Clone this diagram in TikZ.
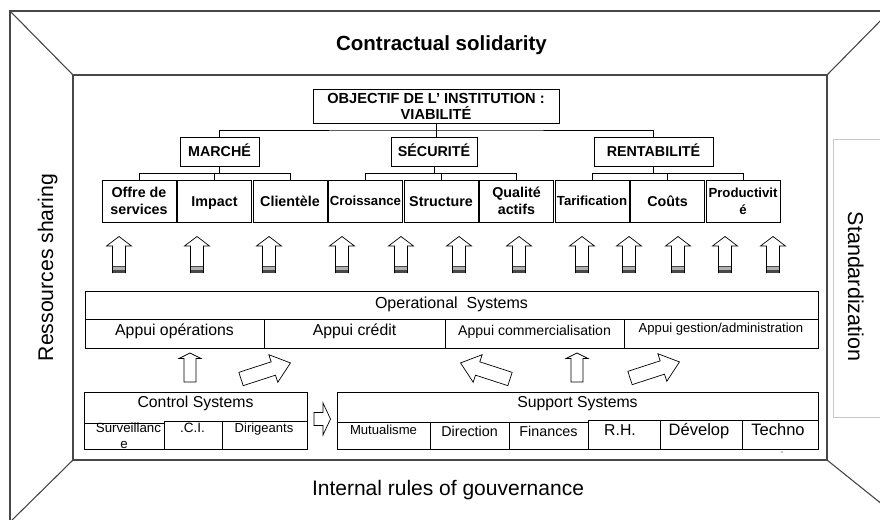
\documentclass[tikz,border=0pt]{standalone}
\usepackage{fontspec}
\setmainfont{Liberation Sans}
\begin{document}
\begin{tikzpicture}[x=1pt,y=-1pt,
  frame/.style={draw=black!72, line width=1.1pt},
  box/.style={draw=black, line width=0.8pt, inner sep=0pt, outer sep=0pt},
  tbox/.style={box, align=center, font=\bfseries\fontsize{14.3}{17}\selectfont},
  one/.style={text height=10.3pt, text depth=0pt},
  conn/.style={draw=black, line width=0.8pt},
  lbl/.style={inner sep=0pt, anchor=base},
  arr/.style={draw=black, line width=0.7pt, fill=white, line join=miter},
  uparr/.pic={
    \fill[black!72] (-6.5,29.3) rectangle (6.5,36.5);
    \fill[black!30] (-6.5,30.8) rectangle (6.5,33);
    \draw[line width=0.7pt] (-6.5,36.5) -- (-6.5,9.5) -- (-12.5,9.5) -- (0,0) -- (12.5,9.5) -- (6.5,9.5) -- (6.5,36.5);
  },
  bigarrow/.pic={
    \draw[arr] (0,-7) -- (34,-7) -- (34,-14.5) -- (52,0) -- (34,14.5) -- (34,7) -- (0,7) -- cycle;
  },
  smallup/.pic={
    \draw[arr] (-6,29) -- (-6,5.5) -- (-11,5.5) -- (0,0) -- (11,5.5) -- (6,5.5) -- (6,29) -- cycle;
  },
  smallright/.pic={
    \draw[arr] (0,-6.5) -- (9,-6.5) -- (9,-16) -- (16.5,0) -- (9,16) -- (9,6.5) -- (0,6.5) -- cycle;
  }
]
\useasboundingbox (0,0) rectangle (880,519);
\clip (0,0) rectangle (880,519);

% ---------- perspective frame ----------
\draw[frame] (895,11) -- (10,11) -- (10,530);
\draw[frame] (73,75) rectangle (827,460);
\draw[frame] (10,11) -- (73,75);
\draw[frame] (827,75) -- (891,10);
\draw[frame] (827,460) -- (893,513);
\draw[frame] (73,460) -- (6,526);
\draw[draw=black!22, line width=0.8pt] (833,139) rectangle (900,417);

% ---------- side texts ----------
\node[lbl, font=\bfseries\fontsize{20.5}{24}\selectfont] (contract) at (441.5,51) {Contractual solidarity};
\node[lbl, font=\fontsize{21}{24}\selectfont] (internal) at (448,495) {Internal rules of gouvernance};
\node[lbl, rotate=90, font=\fontsize{21.2}{24}\selectfont] (ressources) at (53,267.5) {Ressources sharing};
\node[lbl, rotate=-90, font=\fontsize{21.5}{24}\selectfont] (standard) at (848,286.5) {Standardization};

% ---------- objective tree ----------
\node[tbox, minimum width=246, minimum height=34, font=\bfseries\fontsize{14.6}{16}\selectfont] (top) at (436,106) {OBJECTIF DE L' INSTITUTION :\\VIABILITÉ};
\node[tbox, one, minimum width=79, minimum height=29] (m) at (219.5,151.5) {MARCHÉ};
\node[tbox, one, minimum width=86, minimum height=29] (s) at (434,151.5) {SÉCURITÉ};
\node[tbox, one, minimum width=119, minimum height=29] (r) at (653.5,151.5) {RENTABILITÉ};

\tikzset{leaf/.style={tbox, minimum width=74, minimum height=42}}
\node[leaf] (c0) at (139,201) {Offre de\\services};
\node[leaf, one] (c1) at (214.5,201) {Impact};
\node[leaf, one] (c2) at (290,201) {Clientèle};
\node[leaf, one, text height=9.5pt, font=\bfseries\fontsize{13.2}{16}\selectfont] (c3) at (365.5,201) {Croissance};
\node[leaf, one] (c4) at (441,201) {Structure};
\node[leaf] (c5) at (516.5,201) {Qualité\\actifs};
\node[leaf, one, text height=9.5pt, font=\bfseries\fontsize{13.2}{16}\selectfont] (c6) at (592,201) {Tarification};
\node[leaf, one] (c7) at (667.5,201) {Coûts};
\node[leaf, font=\bfseries\fontsize{13.2}{17}\selectfont] (c8) at (743,201) {Productivit\\é};

\coordinate (j1) at (436,130);
\draw[conn] (top.south) -- (top.south |- s.north);
\draw[conn] (m.north) |- (j1) -| (r.north);

\draw[conn] (m.south) -- ++(0,7);
\draw[conn] (c0.north) -- ++(0,-7) -| (c2.north);
\draw[conn] (c1.north) -- ++(0,-7);
\draw[conn] (s.south) -- ++(0,7);
\draw[conn] (c3.north) -- ++(0,-7) -| (c5.north);
\draw[conn] (c4.north) -- ++(0,-7);
\draw[conn] (r.south) -- ++(0,7);
\draw[conn] (c6.north) -- ++(0,-7) -| (c8.north);
\draw[conn] (c7.north) -- ++(0,-7);

% ---------- up arrows ----------
\foreach \ax in {119,197,269,342,401,459,519,582,629,678,725,773}
  \pic at (\ax,236.5) {uparr};

% ---------- operational systems ----------
\node[box, anchor=north west, minimum width=733, minimum height=57] (ops) at (85,291) {};
\node[box, anchor=north west, minimum width=179, minimum height=28.5] (op1) at (85,319.5) {};
\node[box, anchor=north west, minimum width=181, minimum height=28.5] (op2) at (264,319.5) {};
\node[box, anchor=north west, minimum width=179, minimum height=28.5] (op3) at (445,319.5) {};
\node[box, anchor=north west, minimum width=194, minimum height=28.5] (op4) at (624,319.5) {};
\node[lbl, font=\fontsize{16}{18}\selectfont] (opst) at (451.5,308) {Operational\ \ Systems};
\node[lbl, font=\fontsize{15.8}{18}\selectfont] (op1t) at (174.5,335.5) {Appui opérations};
\node[lbl, font=\fontsize{15.8}{18}\selectfont] (op2t) at (354.5,335.5) {Appui crédit};
\node[lbl, font=\fontsize{14.1}{18}\selectfont] (op3t) at (534.5,335.5) {Appui commercialisation};
\node[lbl, font=\fontsize{13.1}{18}\selectfont] (op4t) at (721,332.7) {Appui gestion/administration};

% ---------- control systems ----------
\node[box, anchor=north west, minimum width=223, minimum height=57] (ctl) at (84,392) {};
\node[box, anchor=north west, minimum width=80, minimum height=26] (cl1) at (84,423) {};
\node[box, anchor=north west, minimum width=58, minimum height=28] (cl2) at (164,421) {};
\node[box, anchor=north west, minimum width=85, minimum height=28] (cl3) at (222,421) {};
\node[lbl, font=\fontsize{15.8}{18}\selectfont] (ctlt) at (195.5,407) {Control Systems};
\node[lbl, font=\fontsize{13.3}{16}\selectfont] (cl1t) at (128.5,432) {Surveillanc};
\node[lbl, font=\fontsize{13.3}{16}\selectfont] (cl1u) at (124,448) {e};
\node[lbl, font=\fontsize{13.5}{16}\selectfont] (cl2t) at (192.5,432) {.C.I.};
\node[lbl, font=\fontsize{13}{16}\selectfont] (cl3t) at (264,432) {Dirigeants};

% ---------- support systems ----------
\node[box, anchor=north west, minimum width=481, minimum height=57] (sup) at (337,392) {};
\node[box, anchor=north west, minimum width=93, minimum height=26.3] (sp1) at (337,422.7) {};
\node[box, anchor=north west, minimum width=79, minimum height=26.3] (sp2) at (430,422.7) {};
\node[box, anchor=north west, minimum width=79, minimum height=26.3] (sp3) at (509,422.7) {};
\node[box, anchor=north west, minimum width=72, minimum height=28.3] (sp4) at (588,420.7) {};
\node[box, anchor=north west, minimum width=82, minimum height=28.3] (sp5) at (660,420.7) {};
\node[box, anchor=north west, minimum width=76, minimum height=28.3] (sp6) at (742,420.7) {};
\node[lbl, font=\fontsize{15.8}{18}\selectfont] (supt) at (577.5,407) {Support Systems};
\node[lbl, font=\fontsize{13.1}{16}\selectfont] (sp1t) at (383.5,434) {Mutualisme};
\node[lbl, font=\fontsize{14.3}{16}\selectfont] (sp2t) at (469.5,436) {Direction};
\node[lbl, font=\fontsize{14.3}{16}\selectfont] (sp3t) at (548.5,436) {Finances};
\node[lbl, font=\fontsize{15.8}{18}\selectfont] (sp4t) at (620,435) {R.H.};
\node[lbl, font=\fontsize{16.5}{18}\selectfont] (sp5t) at (699,435) {Dévelop};
\node[lbl, font=\fontsize{16.5}{18}\selectfont] (sp6t) at (778,435) {Techno};
\fill (782,452) circle (0.7);

% ---------- system arrows ----------
\pic at (190,353) {smallup};
\pic at (577,353) {smallup};
\pic[rotate=18] at (241,379) {bigarrow};
\pic[rotate=162] at (510,379) {bigarrow};
\pic[rotate=18] at (630,378) {bigarrow};
\pic at (314,419) {smallright};
\end{tikzpicture}
\end{document}
